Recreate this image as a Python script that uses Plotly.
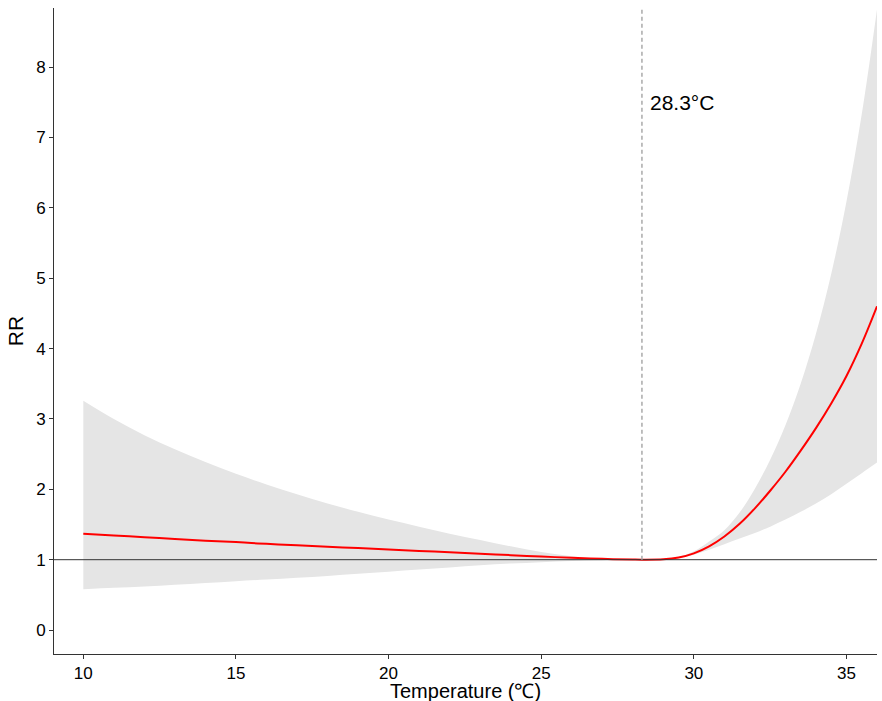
import plotly.graph_objects as go

temperature = [10, 11, 12, 13, 14, 15, 16, 17, 18, 19, 20, 21, 22, 23, 24, 25, 26, 27, 28, 28.3,
               29, 29.5, 30, 30.5, 31, 31.5, 32, 32.5, 33, 33.5, 34, 34.5, 35, 35.5, 36]
rr = [1.37, 1.345, 1.32, 1.295, 1.27, 1.25, 1.225, 1.205, 1.185, 1.165, 1.145, 1.125, 1.105, 1.085, 1.065, 1.045, 1.027, 1.012, 1.002, 1.0,
      1.005, 1.03, 1.09, 1.19, 1.33, 1.51, 1.73, 1.98, 2.25, 2.55, 2.87, 3.22, 3.61, 4.07, 4.60]
rr_upper = [3.26, 3.00, 2.77, 2.57, 2.39, 2.22, 2.07, 1.93, 1.80, 1.68, 1.57, 1.47, 1.37, 1.28, 1.19, 1.11, 1.05, 1.015, 1.0, 1.0,
            1.01, 1.04, 1.12, 1.26, 1.42, 1.67, 2.01, 2.42, 2.91, 3.50, 4.21, 5.06, 6.09, 7.33, 8.82]
rr_lower = [0.58, 0.60, 0.62, 0.645, 0.67, 0.695, 0.72, 0.745, 0.77, 0.80, 0.83, 0.86, 0.89, 0.92, 0.945, 0.965, 0.982, 0.994, 1.0, 1.0,
            1.0, 1.02, 1.07, 1.14, 1.22, 1.30, 1.38, 1.47, 1.57, 1.68, 1.80, 1.93, 2.08, 2.23, 2.38]

mmt = 28.3
mmt_label = "28.3°C"
x_title = "Temperature (℃)"
y_title = "RR"
x_ticks = [10, 15, 20, 25, 30, 35]
y_ticks = [0, 1, 2, 3, 4, 5, 6, 7, 8]
x_range = [9.04, 36.0]
y_range = [-0.34, 8.84]

FONT = "Liberation Sans, Arial, sans-serif"

fig = go.Figure()
fig.add_trace(go.Scatter(x=temperature, y=rr_lower, mode="lines", line=dict(width=0, shape="spline"),
                         hoverinfo="skip", showlegend=False))
fig.add_trace(go.Scatter(x=temperature, y=rr_upper, mode="lines", line=dict(width=0, shape="spline"),
                         fill="tonexty", fillcolor="#e5e5e5", hoverinfo="skip", showlegend=False))

fig.add_shape(type="line", xref="paper", yref="y", x0=0, x1=1, y0=1, y1=1,
              line=dict(color="#333333", width=1))
fig.add_shape(type="line", xref="x", yref="y", x0=mmt, x1=mmt, y0=1, y1=y_range[1],
              line=dict(color="#aaaaaa", width=1.5, dash="4px,3px"))

fig.add_trace(go.Scatter(x=temperature, y=rr, mode="lines", line=dict(color="#ff0000", width=2, shape="spline"),
                         showlegend=False))

fig.add_annotation(x=28.51, y=7.5, xref="x", yref="y", text=mmt_label, showarrow=False,
                   xanchor="left", yanchor="middle", font=dict(family=FONT, size=21, color="black"))

# x-axis title placed just below the tick labels
fig.add_annotation(x=0.5, y=0, xref="paper", yref="paper", text=x_title, showarrow=False,
                   xanchor="center", yanchor="top", yshift=-24,
                   font=dict(family=FONT, size=20, color="black"))

fig.update_layout(
    width=882, height=701,
    margin=dict(l=54, r=5, t=8, b=47),
    paper_bgcolor="white", plot_bgcolor="white",
    font=dict(family=FONT, color="black"),
    showlegend=False,
)
fig.update_xaxes(range=x_range, tickvals=x_ticks, showgrid=False, zeroline=False,
                 showline=True, linecolor="#333333", linewidth=1,
                 ticks="outside", ticklen=4, tickcolor="#333333",
                 tickfont=dict(family=FONT, size=17, color="black"))
fig.update_yaxes(range=y_range, tickvals=y_ticks, showgrid=False, zeroline=False,
                 showline=True, linecolor="#333333", linewidth=1,
                 ticks="outside", ticklen=4, tickcolor="#333333",
                 tickfont=dict(family=FONT, size=17, color="black"),
                 title=dict(text=y_title, font=dict(family=FONT, size=21, color="black"), standoff=6))

fig.write_html("out.html")
